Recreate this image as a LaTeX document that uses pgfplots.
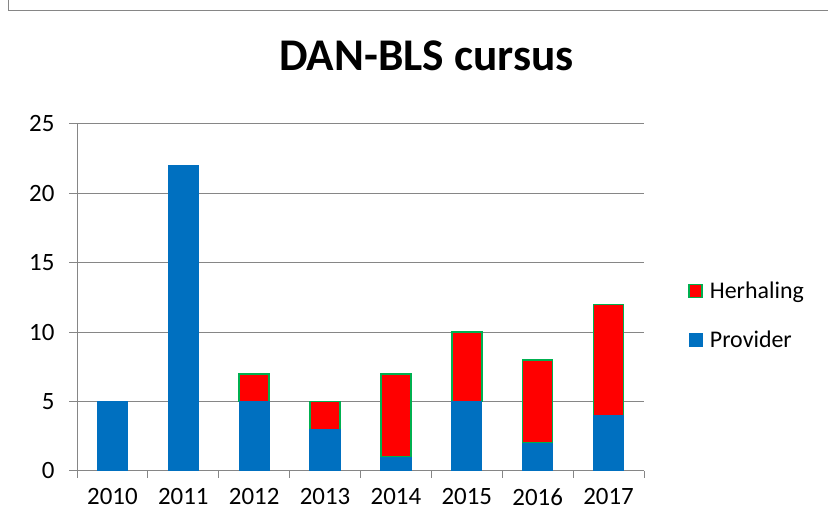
\documentclass[border=0pt]{standalone}
\usepackage{pgfplots}
\pgfplotsset{compat=1.18}
\usepackage{fontspec}
\setmainfont{Carlito}
\definecolor{provblue}{HTML}{0070C0}
\definecolor{herred}{HTML}{FF0000}
\definecolor{hergreen}{HTML}{00B050}
\definecolor{gridgray}{HTML}{868686}
\pgfplotsset{sqlegend/.style={legend image code/.code={\draw[##1] (0bp,-6bp) rectangle (13bp,7bp);}}}
\begin{document}
\begin{tikzpicture}[x=1bp,y=1bp]
\useasboundingbox (0,0) rectangle (828,530);
\draw[gridgray, line width=1bp] (8,530) -- (8,519) -- (828,519);
\node[font=\fontsize{45.5}{50}\selectfont\bfseries, anchor=base] at (426.5,459) {DAN-BLS cursus};
\begin{axis}[
  at={(77bp,59bp)}, anchor=south west,
  scale only axis, width=567bp, height=347bp,
  ybar stacked, bar width=30bp,
  xmin=-0.5, xmax=7.5, ymin=0, ymax=25,
  axis x line*=bottom, axis y line*=left,
  axis line style={gridgray, line width=1bp, -},
  ymajorgrids, grid style={gridgray, line width=1bp},
  ytick={0,5,...,25},
  xtick={0,...,7},
  xticklabels={2010,2011,2012,2013,2014,2015,2016,2017},
  minor xtick={-0.5,0.5,...,7.5},
  major x tick style={draw=none},
  minor x tick style={gridgray, line width=1bp},
  minor tick length=7bp,
  ytick style={gridgray, line width=1bp},
  major tick length=8bp,
  tick align=outside,
  /pgf/number format/assume math mode=true,
  ticklabel style={font=\fontsize{25}{28}\selectfont, black},
  yticklabel style={anchor=east, xshift=-11bp},
  xticklabel style={yshift=-6bp},
  legend style={draw=none, fill=none, at={(axis description cs:1.078,0.447)}, anchor=west,
    font=\fontsize{24}{28}\selectfont, row sep=27bp, inner sep=0pt, cells={anchor=west},
    /tikz/every odd column/.append style={column sep=5bp}},
  reverse legend,
]
\addplot[fill=provblue, draw=provblue, line width=1.2bp, sqlegend] coordinates {(0,5) (1,22) (2,5) (3,3) (4,1) (5,5) (6,2) (7,4)};
\addlegendentry{Provider}
\addplot[fill=herred, draw=hergreen, line width=1.5bp, sqlegend] coordinates {(0,0) (1,0) (2,2) (3,2) (4,6) (5,5) (6,6) (7,8)};
\addlegendentry{Herhaling}
\addplot[fill=provblue, draw=provblue, line width=1.6bp, stack plots=false, forget plot] coordinates {(0,5) (1,22)};
\end{axis}
\end{tikzpicture}
\end{document}
